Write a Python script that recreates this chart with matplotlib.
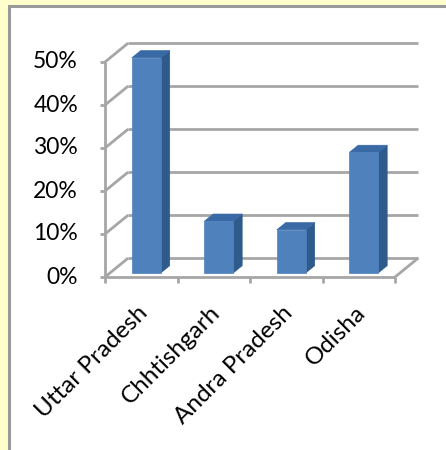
import matplotlib.pyplot as plt
from matplotlib.patches import Polygon, Rectangle
import matplotlib.transforms as mtransforms

# --- DATA ---
states = ["Uttar Pradesh", "Chhtishgarh", "Andra Pradesh", "Odisha"]
shares = [50, 12, 10, 28]          # percent
y_ticks = [0, 10, 20, 30, 40, 50]
y_labels = ["0%", "10%", "20%", "30%", "40%", "50%"]

# --- STYLE ---
BG_YELLOW = "#FFFFCC"
GRID = "#A6A6A6"
FRONT = "#4F81BD"
SIDE = "#2E5A8C"
TOP = "#3A6AA6"
DEPTH_X = 0.32      # depth of the 3D box in category units
DEPTH_Y = 4.4       # depth of the 3D box in percent units
BAR_W = 0.4
BAR_D0, BAR_D1 = 0.22, 0.60
plt.rcParams['font.family'] = ['Lato', 'DejaVu Sans']
FS_Y = 16.5
FS_X = 17.5

fig = plt.figure(figsize=(4.46, 4.50), dpi=100)
fig.patch.set_facecolor(BG_YELLOW)

# white chart panel with grey border
fig.patches.append(Rectangle((9 / 446, -0.05), 1.0, (450 - 6) / 450 + 0.05,
                             transform=fig.transFigure, facecolor="white",
                             edgecolor="#9A9A9A", linewidth=2.2, zorder=-10))

ax = fig.add_axes([105 / 446, (450 - 277) / 450, 290 / 446, 215 / 450])
ax.set_xlim(0, len(states))
ax.set_ylim(0, 50)
ax.axis("off")
ax.patch.set_alpha(0)

n = len(states)
kw = dict(color=GRID, lw=2.0, clip_on=False, solid_capstyle="butt", zorder=1)

# back wall gridlines + left side wall diagonals
for g in y_ticks:
    ax.plot([DEPTH_X, n + DEPTH_X], [g + DEPTH_Y, g + DEPTH_Y], **kw)
    ax.plot([0, DEPTH_X], [g, g + DEPTH_Y], **kw)
    ax.plot([-0.07, 0], [g, g], **kw)

# floor
ax.plot([0, n], [0, 0], **kw)
ax.plot([n, n + DEPTH_X], [0, DEPTH_Y], **kw)
# front vertical axis
ax.plot([0, 0], [0, 50], **kw)
# category ticks
for i in range(n + 1):
    ax.plot([i, i], [0, -1.5], **kw)

# bars
for i, v in enumerate(shares):
    cx = i + 0.5
    x0, x1 = cx - BAR_W / 2, cx + BAR_W / 2
    ox0, oy0 = BAR_D0 * DEPTH_X, BAR_D0 * DEPTH_Y
    ox1, oy1 = BAR_D1 * DEPTH_X, BAR_D1 * DEPTH_Y
    side = [(x1 + ox0, oy0), (x1 + ox1, oy1), (x1 + ox1, v + oy1), (x1 + ox0, v + oy0)]
    top = [(x0 + ox0, v + oy0), (x1 + ox0, v + oy0), (x1 + ox1, v + oy1), (x0 + ox1, v + oy1)]
    front = [(x0 + ox0, oy0), (x1 + ox0, oy0), (x1 + ox0, v + oy0), (x0 + ox0, v + oy0)]
    for pts, c in [(side, SIDE), (top, TOP), (front, FRONT)]:
        ax.add_patch(Polygon(pts, closed=True, facecolor=c, edgecolor=c,
                             lw=0.5, clip_on=False, zorder=3))

# y tick labels
ylab_tr = mtransforms.offset_copy(ax.transData, fig=fig, x=-27, y=0, units="dots")
for g, lab in zip(y_ticks, y_labels):
    ax.text(0, g, lab, transform=ylab_tr, ha="right", va="center",
            fontsize=FS_Y, color="black")

# category labels, rotated 45 degrees
xlab_tr = mtransforms.offset_copy(ax.transData, fig=fig, x=-4, y=-25, units="dots")
for i, name in enumerate(states):
    ax.text(i + 0.5, 0, name, transform=xlab_tr, ha="right", va="top",
            rotation=45, rotation_mode="anchor", fontsize=FS_X, color="black")

fig.savefig("out.png", dpi=100, facecolor=fig.get_facecolor())
